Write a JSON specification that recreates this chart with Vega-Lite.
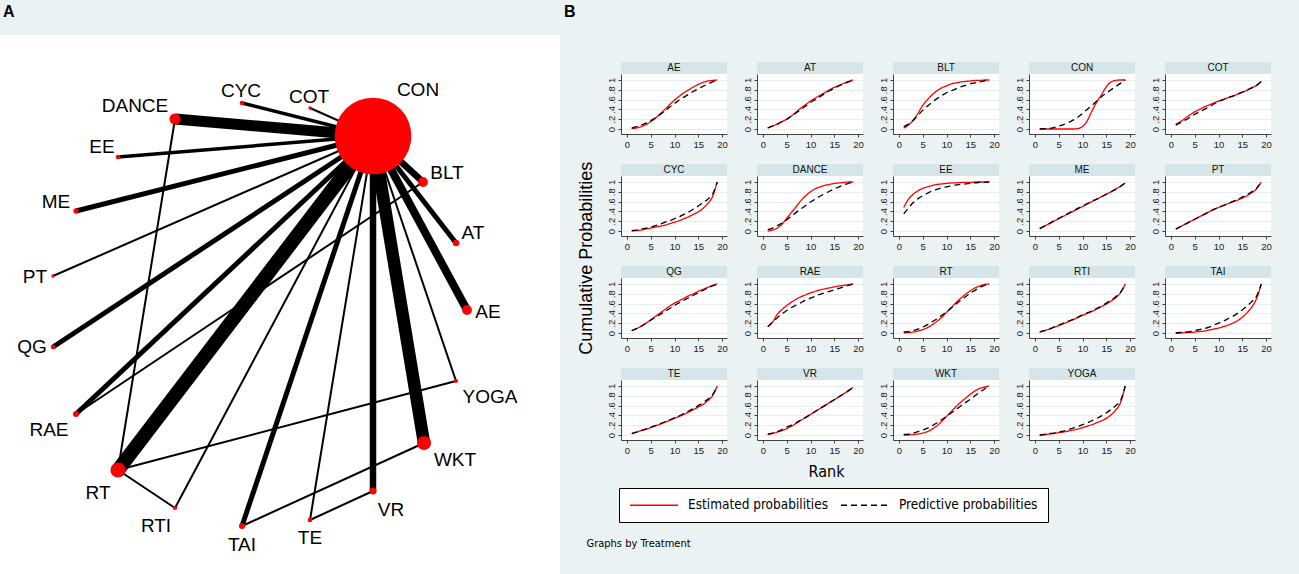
{
  "$schema": "https://vega.github.io/schema/vega-lite/v6.json",
  "background": "#EAF2F3",
  "padding": 0,
  "config": {"view": {"stroke": null, "fill": "white"}, "header": {"labels": false, "title": null, "labelFontSize": 0, "labelPadding": 0}, "headerFacet": {"labels": false, "title": null, "labelFontSize": 0, "labelPadding": 0}},
  "datasets": {
    "nodes": [
      {"id":"AE","x":467,"y":310,"n":48,"lx":488,"ly":312},
      {"id":"AT","x":456,"y":243,"n":21,"lx":473,"ly":233},
      {"id":"BLT","x":423,"y":182,"n":48,"lx":447,"ly":173},
      {"id":"CON","x":373,"y":136,"n":2945,"lx":418,"ly":90},
      {"id":"COT","x":310,"y":108,"n":6,"lx":309,"ly":97},
      {"id":"CYC","x":242,"y":103,"n":11,"lx":241,"ly":91},
      {"id":"DANCE","x":175,"y":119,"n":62,"lx":135,"ly":106},
      {"id":"EE","x":118,"y":157,"n":11,"lx":102,"ly":147},
      {"id":"ME","x":76,"y":211,"n":14,"lx":56,"ly":202},
      {"id":"PT","x":53,"y":276,"n":6,"lx":35,"ly":277},
      {"id":"QG","x":53,"y":347,"n":11,"lx":32,"ly":347},
      {"id":"RAE","x":76,"y":414,"n":18,"lx":49,"ly":430},
      {"id":"RT","x":118,"y":470,"n":114,"lx":98,"ly":493},
      {"id":"RTI","x":175,"y":508,"n":9,"lx":156,"ly":526},
      {"id":"TAI","x":242,"y":526,"n":18,"lx":242,"ly":545},
      {"id":"TE","x":310,"y":520,"n":11,"lx":310,"ly":538},
      {"id":"VR","x":373,"y":491,"n":25,"lx":391,"ly":510},
      {"id":"WKT","x":424,"y":443,"n":100,"lx":455,"ly":460},
      {"id":"YOGA","x":456,"y":381,"n":9,"lx":490,"ly":397}
    ],
    "edges": [
      {"a":"CON","b":"AE","studies":5},
      {"a":"CON","b":"AT","studies":3},
      {"a":"CON","b":"BLT","studies":4},
      {"a":"CON","b":"COT","studies":1},
      {"a":"CON","b":"CYC","studies":2},
      {"a":"CON","b":"DANCE","studies":7},
      {"a":"CON","b":"EE","studies":2},
      {"a":"CON","b":"ME","studies":3},
      {"a":"CON","b":"PT","studies":1},
      {"a":"CON","b":"QG","studies":3},
      {"a":"CON","b":"RAE","studies":3},
      {"a":"CON","b":"RT","studies":9},
      {"a":"CON","b":"RTI","studies":1},
      {"a":"CON","b":"TAI","studies":3},
      {"a":"CON","b":"TE","studies":1},
      {"a":"CON","b":"VR","studies":4},
      {"a":"CON","b":"WKT","studies":8},
      {"a":"CON","b":"YOGA","studies":1},
      {"a":"DANCE","b":"RT","studies":1},
      {"a":"RAE","b":"BLT","studies":1},
      {"a":"RT","b":"YOGA","studies":1},
      {"a":"RT","b":"RTI","studies":1},
      {"a":"TAI","b":"WKT","studies":1},
      {"a":"TE","b":"VR","studies":1}
    ],
    "curves": [
      {"t":"AE","r":1,"e":0.01,"p":0.02},{"t":"AE","r":2,"e":0.02,"p":0.05},{"t":"AE","r":3,"e":0.05,"p":0.08},{"t":"AE","r":4,"e":0.09,"p":0.12},{"t":"AE","r":5,"e":0.15,"p":0.17},{"t":"AE","r":6,"e":0.22,"p":0.23},{"t":"AE","r":7,"e":0.31,"p":0.30},{"t":"AE","r":8,"e":0.40,"p":0.37},{"t":"AE","r":9,"e":0.50,"p":0.45},{"t":"AE","r":10,"e":0.59,"p":0.52},{"t":"AE","r":11,"e":0.67,"p":0.59},{"t":"AE","r":12,"e":0.74,"p":0.65},{"t":"AE","r":13,"e":0.80,"p":0.71},{"t":"AE","r":14,"e":0.86,"p":0.77},{"t":"AE","r":15,"e":0.91,"p":0.82},{"t":"AE","r":16,"e":0.95,"p":0.87},{"t":"AE","r":17,"e":0.98,"p":0.92},{"t":"AE","r":18,"e":0.99,"p":0.96},{"t":"AE","r":19,"e":1,"p":1},
      {"t":"AT","r":1,"e":0.02,"p":0.02},{"t":"AT","r":2,"e":0.06,"p":0.06},{"t":"AT","r":3,"e":0.10,"p":0.10},{"t":"AT","r":4,"e":0.15,"p":0.15},{"t":"AT","r":5,"e":0.20,"p":0.20},{"t":"AT","r":6,"e":0.27,"p":0.26},{"t":"AT","r":7,"e":0.35,"p":0.33},{"t":"AT","r":8,"e":0.43,"p":0.40},{"t":"AT","r":9,"e":0.50,"p":0.47},{"t":"AT","r":10,"e":0.57,"p":0.54},{"t":"AT","r":11,"e":0.63,"p":0.60},{"t":"AT","r":12,"e":0.69,"p":0.66},{"t":"AT","r":13,"e":0.74,"p":0.72},{"t":"AT","r":14,"e":0.80,"p":0.78},{"t":"AT","r":15,"e":0.85,"p":0.83},{"t":"AT","r":16,"e":0.89,"p":0.88},{"t":"AT","r":17,"e":0.93,"p":0.92},{"t":"AT","r":18,"e":0.97,"p":0.96},{"t":"AT","r":19,"e":1,"p":0.99},
      {"t":"BLT","r":1,"e":0.02,"p":0.05},{"t":"BLT","r":2,"e":0.08,"p":0.10},{"t":"BLT","r":3,"e":0.18,"p":0.18},{"t":"BLT","r":4,"e":0.32,"p":0.28},{"t":"BLT","r":5,"e":0.48,"p":0.38},{"t":"BLT","r":6,"e":0.60,"p":0.47},{"t":"BLT","r":7,"e":0.70,"p":0.55},{"t":"BLT","r":8,"e":0.78,"p":0.62},{"t":"BLT","r":9,"e":0.84,"p":0.68},{"t":"BLT","r":10,"e":0.88,"p":0.74},{"t":"BLT","r":11,"e":0.92,"p":0.78},{"t":"BLT","r":12,"e":0.94,"p":0.82},{"t":"BLT","r":13,"e":0.96,"p":0.86},{"t":"BLT","r":14,"e":0.97,"p":0.89},{"t":"BLT","r":15,"e":0.98,"p":0.92},{"t":"BLT","r":16,"e":0.99,"p":0.94},{"t":"BLT","r":17,"e":0.99,"p":0.96},{"t":"BLT","r":18,"e":1,"p":0.98},{"t":"BLT","r":19,"e":1,"p":1},
      {"t":"CON","r":1,"e":0,"p":0},{"t":"CON","r":2,"e":0,"p":0.005},{"t":"CON","r":3,"e":0,"p":0.01},{"t":"CON","r":4,"e":0,"p":0.03},{"t":"CON","r":5,"e":0,"p":0.06},{"t":"CON","r":6,"e":0,"p":0.09},{"t":"CON","r":7,"e":0,"p":0.13},{"t":"CON","r":8,"e":0,"p":0.18},{"t":"CON","r":9,"e":0.01,"p":0.24},{"t":"CON","r":10,"e":0.05,"p":0.32},{"t":"CON","r":11,"e":0.17,"p":0.40},{"t":"CON","r":12,"e":0.37,"p":0.48},{"t":"CON","r":13,"e":0.55,"p":0.57},{"t":"CON","r":14,"e":0.70,"p":0.66},{"t":"CON","r":15,"e":0.86,"p":0.73},{"t":"CON","r":16,"e":0.96,"p":0.80},{"t":"CON","r":17,"e":0.99,"p":0.87},{"t":"CON","r":18,"e":1,"p":0.93},{"t":"CON","r":19,"e":1,"p":1},
      {"t":"COT","r":1,"e":0.10,"p":0.08},{"t":"COT","r":2,"e":0.15,"p":0.13},{"t":"COT","r":3,"e":0.22,"p":0.18},{"t":"COT","r":4,"e":0.29,"p":0.24},{"t":"COT","r":5,"e":0.35,"p":0.30},{"t":"COT","r":6,"e":0.40,"p":0.35},{"t":"COT","r":7,"e":0.45,"p":0.40},{"t":"COT","r":8,"e":0.49,"p":0.45},{"t":"COT","r":9,"e":0.53,"p":0.51},{"t":"COT","r":10,"e":0.57,"p":0.56},{"t":"COT","r":11,"e":0.60,"p":0.60},{"t":"COT","r":12,"e":0.64,"p":0.64},{"t":"COT","r":13,"e":0.67,"p":0.67},{"t":"COT","r":14,"e":0.71,"p":0.71},{"t":"COT","r":15,"e":0.75,"p":0.75},{"t":"COT","r":16,"e":0.79,"p":0.79},{"t":"COT","r":17,"e":0.84,"p":0.84},{"t":"COT","r":18,"e":0.89,"p":0.89},{"t":"COT","r":19,"e":0.97,"p":0.97},
      {"t":"CYC","r":1,"e":0,"p":0.01},{"t":"CYC","r":2,"e":0.01,"p":0.02},{"t":"CYC","r":3,"e":0.02,"p":0.04},{"t":"CYC","r":4,"e":0.04,"p":0.06},{"t":"CYC","r":5,"e":0.06,"p":0.08},{"t":"CYC","r":6,"e":0.08,"p":0.11},{"t":"CYC","r":7,"e":0.10,"p":0.14},{"t":"CYC","r":8,"e":0.12,"p":0.18},{"t":"CYC","r":9,"e":0.15,"p":0.21},{"t":"CYC","r":10,"e":0.18,"p":0.25},{"t":"CYC","r":11,"e":0.21,"p":0.29},{"t":"CYC","r":12,"e":0.25,"p":0.34},{"t":"CYC","r":13,"e":0.29,"p":0.39},{"t":"CYC","r":14,"e":0.34,"p":0.45},{"t":"CYC","r":15,"e":0.39,"p":0.51},{"t":"CYC","r":16,"e":0.46,"p":0.58},{"t":"CYC","r":17,"e":0.56,"p":0.65},{"t":"CYC","r":18,"e":0.70,"p":0.75},{"t":"CYC","r":19,"e":1,"p":1},
      {"t":"DANCE","r":1,"e":0,"p":0.03},{"t":"DANCE","r":2,"e":0.02,"p":0.06},{"t":"DANCE","r":3,"e":0.06,"p":0.11},{"t":"DANCE","r":4,"e":0.14,"p":0.16},{"t":"DANCE","r":5,"e":0.26,"p":0.23},{"t":"DANCE","r":6,"e":0.38,"p":0.30},{"t":"DANCE","r":7,"e":0.50,"p":0.38},{"t":"DANCE","r":8,"e":0.62,"p":0.45},{"t":"DANCE","r":9,"e":0.72,"p":0.52},{"t":"DANCE","r":10,"e":0.80,"p":0.59},{"t":"DANCE","r":11,"e":0.86,"p":0.65},{"t":"DANCE","r":12,"e":0.90,"p":0.71},{"t":"DANCE","r":13,"e":0.93,"p":0.76},{"t":"DANCE","r":14,"e":0.95,"p":0.81},{"t":"DANCE","r":15,"e":0.97,"p":0.86},{"t":"DANCE","r":16,"e":0.98,"p":0.90},{"t":"DANCE","r":17,"e":0.99,"p":0.94},{"t":"DANCE","r":18,"e":1,"p":0.97},{"t":"DANCE","r":19,"e":1,"p":1},
      {"t":"EE","r":1,"e":0.48,"p":0.35},{"t":"EE","r":2,"e":0.65,"p":0.47},{"t":"EE","r":3,"e":0.75,"p":0.58},{"t":"EE","r":4,"e":0.82,"p":0.66},{"t":"EE","r":5,"e":0.87,"p":0.72},{"t":"EE","r":6,"e":0.90,"p":0.77},{"t":"EE","r":7,"e":0.93,"p":0.82},{"t":"EE","r":8,"e":0.95,"p":0.85},{"t":"EE","r":9,"e":0.96,"p":0.88},{"t":"EE","r":10,"e":0.97,"p":0.90},{"t":"EE","r":11,"e":0.98,"p":0.92},{"t":"EE","r":12,"e":0.98,"p":0.94},{"t":"EE","r":13,"e":0.99,"p":0.95},{"t":"EE","r":14,"e":0.99,"p":0.96},{"t":"EE","r":15,"e":0.99,"p":0.97},{"t":"EE","r":16,"e":1,"p":0.98},{"t":"EE","r":17,"e":1,"p":0.99},{"t":"EE","r":18,"e":1,"p":0.99},{"t":"EE","r":19,"e":1,"p":1},
      {"t":"ME","r":1,"e":0.05,"p":0.05},{"t":"ME","r":2,"e":0.10,"p":0.10},{"t":"ME","r":3,"e":0.15,"p":0.15},{"t":"ME","r":4,"e":0.20,"p":0.21},{"t":"ME","r":5,"e":0.25,"p":0.26},{"t":"ME","r":6,"e":0.30,"p":0.31},{"t":"ME","r":7,"e":0.35,"p":0.36},{"t":"ME","r":8,"e":0.40,"p":0.41},{"t":"ME","r":9,"e":0.45,"p":0.46},{"t":"ME","r":10,"e":0.50,"p":0.51},{"t":"ME","r":11,"e":0.55,"p":0.56},{"t":"ME","r":12,"e":0.60,"p":0.61},{"t":"ME","r":13,"e":0.65,"p":0.65},{"t":"ME","r":14,"e":0.70,"p":0.70},{"t":"ME","r":15,"e":0.75,"p":0.75},{"t":"ME","r":16,"e":0.80,"p":0.80},{"t":"ME","r":17,"e":0.86,"p":0.85},{"t":"ME","r":18,"e":0.91,"p":0.91},{"t":"ME","r":19,"e":0.98,"p":0.98},
      {"t":"PT","r":1,"e":0.04,"p":0.04},{"t":"PT","r":2,"e":0.09,"p":0.09},{"t":"PT","r":3,"e":0.14,"p":0.14},{"t":"PT","r":4,"e":0.19,"p":0.19},{"t":"PT","r":5,"e":0.24,"p":0.24},{"t":"PT","r":6,"e":0.29,"p":0.29},{"t":"PT","r":7,"e":0.34,"p":0.34},{"t":"PT","r":8,"e":0.39,"p":0.39},{"t":"PT","r":9,"e":0.44,"p":0.44},{"t":"PT","r":10,"e":0.48,"p":0.48},{"t":"PT","r":11,"e":0.52,"p":0.52},{"t":"PT","r":12,"e":0.56,"p":0.56},{"t":"PT","r":13,"e":0.60,"p":0.60},{"t":"PT","r":14,"e":0.63,"p":0.64},{"t":"PT","r":15,"e":0.67,"p":0.69},{"t":"PT","r":16,"e":0.72,"p":0.74},{"t":"PT","r":17,"e":0.78,"p":0.80},{"t":"PT","r":18,"e":0.86,"p":0.87},{"t":"PT","r":19,"e":1,"p":1},
      {"t":"QG","r":1,"e":0.05,"p":0.05},{"t":"QG","r":2,"e":0.09,"p":0.09},{"t":"QG","r":3,"e":0.14,"p":0.14},{"t":"QG","r":4,"e":0.20,"p":0.20},{"t":"QG","r":5,"e":0.27,"p":0.26},{"t":"QG","r":6,"e":0.34,"p":0.32},{"t":"QG","r":7,"e":0.41,"p":0.38},{"t":"QG","r":8,"e":0.48,"p":0.44},{"t":"QG","r":9,"e":0.55,"p":0.50},{"t":"QG","r":10,"e":0.61,"p":0.56},{"t":"QG","r":11,"e":0.66,"p":0.62},{"t":"QG","r":12,"e":0.71,"p":0.67},{"t":"QG","r":13,"e":0.76,"p":0.72},{"t":"QG","r":14,"e":0.80,"p":0.77},{"t":"QG","r":15,"e":0.85,"p":0.82},{"t":"QG","r":16,"e":0.89,"p":0.87},{"t":"QG","r":17,"e":0.93,"p":0.92},{"t":"QG","r":18,"e":0.97,"p":0.96},{"t":"QG","r":19,"e":1,"p":1},
      {"t":"RAE","r":1,"e":0.13,"p":0.13},{"t":"RAE","r":2,"e":0.22,"p":0.22},{"t":"RAE","r":3,"e":0.38,"p":0.31},{"t":"RAE","r":4,"e":0.48,"p":0.39},{"t":"RAE","r":5,"e":0.56,"p":0.46},{"t":"RAE","r":6,"e":0.63,"p":0.52},{"t":"RAE","r":7,"e":0.69,"p":0.57},{"t":"RAE","r":8,"e":0.74,"p":0.62},{"t":"RAE","r":9,"e":0.78,"p":0.67},{"t":"RAE","r":10,"e":0.82,"p":0.71},{"t":"RAE","r":11,"e":0.85,"p":0.75},{"t":"RAE","r":12,"e":0.88,"p":0.79},{"t":"RAE","r":13,"e":0.90,"p":0.82},{"t":"RAE","r":14,"e":0.92,"p":0.85},{"t":"RAE","r":15,"e":0.94,"p":0.88},{"t":"RAE","r":16,"e":0.96,"p":0.91},{"t":"RAE","r":17,"e":0.97,"p":0.94},{"t":"RAE","r":18,"e":0.99,"p":0.97},{"t":"RAE","r":19,"e":1,"p":1},
      {"t":"RT","r":1,"e":0,"p":0.02},{"t":"RT","r":2,"e":0.01,"p":0.03},{"t":"RT","r":3,"e":0.02,"p":0.05},{"t":"RT","r":4,"e":0.04,"p":0.08},{"t":"RT","r":5,"e":0.07,"p":0.12},{"t":"RT","r":6,"e":0.11,"p":0.17},{"t":"RT","r":7,"e":0.17,"p":0.23},{"t":"RT","r":8,"e":0.24,"p":0.29},{"t":"RT","r":9,"e":0.32,"p":0.36},{"t":"RT","r":10,"e":0.42,"p":0.43},{"t":"RT","r":11,"e":0.52,"p":0.51},{"t":"RT","r":12,"e":0.62,"p":0.59},{"t":"RT","r":13,"e":0.71,"p":0.67},{"t":"RT","r":14,"e":0.79,"p":0.74},{"t":"RT","r":15,"e":0.86,"p":0.81},{"t":"RT","r":16,"e":0.92,"p":0.87},{"t":"RT","r":17,"e":0.96,"p":0.93},{"t":"RT","r":18,"e":0.99,"p":0.97},{"t":"RT","r":19,"e":1,"p":1},
      {"t":"RTI","r":1,"e":0.02,"p":0.02},{"t":"RTI","r":2,"e":0.05,"p":0.05},{"t":"RTI","r":3,"e":0.08,"p":0.08},{"t":"RTI","r":4,"e":0.12,"p":0.12},{"t":"RTI","r":5,"e":0.15,"p":0.16},{"t":"RTI","r":6,"e":0.19,"p":0.20},{"t":"RTI","r":7,"e":0.23,"p":0.24},{"t":"RTI","r":8,"e":0.27,"p":0.28},{"t":"RTI","r":9,"e":0.32,"p":0.32},{"t":"RTI","r":10,"e":0.36,"p":0.37},{"t":"RTI","r":11,"e":0.40,"p":0.41},{"t":"RTI","r":12,"e":0.44,"p":0.45},{"t":"RTI","r":13,"e":0.49,"p":0.50},{"t":"RTI","r":14,"e":0.54,"p":0.55},{"t":"RTI","r":15,"e":0.59,"p":0.61},{"t":"RTI","r":16,"e":0.65,"p":0.67},{"t":"RTI","r":17,"e":0.72,"p":0.74},{"t":"RTI","r":18,"e":0.82,"p":0.83},{"t":"RTI","r":19,"e":1,"p":1},
      {"t":"TAI","r":1,"e":0,"p":0},{"t":"TAI","r":2,"e":0,"p":0.01},{"t":"TAI","r":3,"e":0.01,"p":0.02},{"t":"TAI","r":4,"e":0.01,"p":0.03},{"t":"TAI","r":5,"e":0.02,"p":0.05},{"t":"TAI","r":6,"e":0.03,"p":0.07},{"t":"TAI","r":7,"e":0.04,"p":0.09},{"t":"TAI","r":8,"e":0.06,"p":0.12},{"t":"TAI","r":9,"e":0.08,"p":0.16},{"t":"TAI","r":10,"e":0.10,"p":0.20},{"t":"TAI","r":11,"e":0.13,"p":0.24},{"t":"TAI","r":12,"e":0.16,"p":0.29},{"t":"TAI","r":13,"e":0.20,"p":0.34},{"t":"TAI","r":14,"e":0.25,"p":0.40},{"t":"TAI","r":15,"e":0.32,"p":0.47},{"t":"TAI","r":16,"e":0.41,"p":0.55},{"t":"TAI","r":17,"e":0.53,"p":0.64},{"t":"TAI","r":18,"e":0.70,"p":0.75},{"t":"TAI","r":19,"e":1,"p":1},
      {"t":"TE","r":1,"e":0.03,"p":0.03},{"t":"TE","r":2,"e":0.06,"p":0.06},{"t":"TE","r":3,"e":0.09,"p":0.09},{"t":"TE","r":4,"e":0.12,"p":0.12},{"t":"TE","r":5,"e":0.15,"p":0.16},{"t":"TE","r":6,"e":0.19,"p":0.19},{"t":"TE","r":7,"e":0.22,"p":0.23},{"t":"TE","r":8,"e":0.26,"p":0.27},{"t":"TE","r":9,"e":0.30,"p":0.31},{"t":"TE","r":10,"e":0.34,"p":0.35},{"t":"TE","r":11,"e":0.38,"p":0.39},{"t":"TE","r":12,"e":0.42,"p":0.44},{"t":"TE","r":13,"e":0.47,"p":0.49},{"t":"TE","r":14,"e":0.52,"p":0.54},{"t":"TE","r":15,"e":0.57,"p":0.60},{"t":"TE","r":16,"e":0.62,"p":0.66},{"t":"TE","r":17,"e":0.70,"p":0.73},{"t":"TE","r":18,"e":0.80,"p":0.82},{"t":"TE","r":19,"e":1,"p":1},
      {"t":"VR","r":1,"e":0.01,"p":0.02},{"t":"VR","r":2,"e":0.03,"p":0.04},{"t":"VR","r":3,"e":0.06,"p":0.07},{"t":"VR","r":4,"e":0.09,"p":0.11},{"t":"VR","r":5,"e":0.13,"p":0.16},{"t":"VR","r":6,"e":0.18,"p":0.20},{"t":"VR","r":7,"e":0.24,"p":0.25},{"t":"VR","r":8,"e":0.30,"p":0.31},{"t":"VR","r":9,"e":0.36,"p":0.36},{"t":"VR","r":10,"e":0.42,"p":0.42},{"t":"VR","r":11,"e":0.48,"p":0.48},{"t":"VR","r":12,"e":0.54,"p":0.54},{"t":"VR","r":13,"e":0.60,"p":0.60},{"t":"VR","r":14,"e":0.66,"p":0.66},{"t":"VR","r":15,"e":0.72,"p":0.72},{"t":"VR","r":16,"e":0.78,"p":0.78},{"t":"VR","r":17,"e":0.84,"p":0.84},{"t":"VR","r":18,"e":0.91,"p":0.90},{"t":"VR","r":19,"e":0.97,"p":0.97},
      {"t":"WKT","r":1,"e":0,"p":0.01},{"t":"WKT","r":2,"e":0,"p":0.02},{"t":"WKT","r":3,"e":0.01,"p":0.04},{"t":"WKT","r":4,"e":0.02,"p":0.07},{"t":"WKT","r":5,"e":0.04,"p":0.10},{"t":"WKT","r":6,"e":0.07,"p":0.14},{"t":"WKT","r":7,"e":0.12,"p":0.19},{"t":"WKT","r":8,"e":0.19,"p":0.25},{"t":"WKT","r":9,"e":0.28,"p":0.31},{"t":"WKT","r":10,"e":0.38,"p":0.38},{"t":"WKT","r":11,"e":0.48,"p":0.45},{"t":"WKT","r":12,"e":0.58,"p":0.52},{"t":"WKT","r":13,"e":0.67,"p":0.59},{"t":"WKT","r":14,"e":0.75,"p":0.66},{"t":"WKT","r":15,"e":0.83,"p":0.73},{"t":"WKT","r":16,"e":0.90,"p":0.80},{"t":"WKT","r":17,"e":0.95,"p":0.87},{"t":"WKT","r":18,"e":0.98,"p":0.94},{"t":"WKT","r":19,"e":1,"p":1},
      {"t":"YOGA","r":1,"e":0,"p":0},{"t":"YOGA","r":2,"e":0.01,"p":0.01},{"t":"YOGA","r":3,"e":0.02,"p":0.03},{"t":"YOGA","r":4,"e":0.03,"p":0.04},{"t":"YOGA","r":5,"e":0.05,"p":0.06},{"t":"YOGA","r":6,"e":0.06,"p":0.08},{"t":"YOGA","r":7,"e":0.08,"p":0.11},{"t":"YOGA","r":8,"e":0.10,"p":0.14},{"t":"YOGA","r":9,"e":0.12,"p":0.17},{"t":"YOGA","r":10,"e":0.15,"p":0.21},{"t":"YOGA","r":11,"e":0.18,"p":0.25},{"t":"YOGA","r":12,"e":0.21,"p":0.29},{"t":"YOGA","r":13,"e":0.25,"p":0.34},{"t":"YOGA","r":14,"e":0.29,"p":0.39},{"t":"YOGA","r":15,"e":0.34,"p":0.45},{"t":"YOGA","r":16,"e":0.41,"p":0.52},{"t":"YOGA","r":17,"e":0.51,"p":0.60},{"t":"YOGA","r":18,"e":0.66,"p":0.70},{"t":"YOGA","r":19,"e":1,"p":1}
    ]
  },
  "spacing": 0,
  "vconcat": [
    {
      "spacing": 0,
      "hconcat": [
        {
          "width": 560, "height": 35,
          "data": {"values": [{}]},
          "mark": {"type": "text"},
          "encoding": {"text": {"value": ""}},
          "title": {"text": "A", "anchor": "start", "offset": -20, "dx": 3, "fontSize": 16, "fontWeight": "bold", "font": "Liberation Sans", "color": "black"}
        },
        {
          "width": 739, "height": 35,
          "data": {"values": [{}]},
          "mark": {"type": "text"},
          "encoding": {"text": {"value": ""}},
          "title": {"text": "B", "anchor": "start", "offset": -20, "dx": 4, "fontSize": 16, "fontWeight": "bold", "font": "Liberation Sans", "color": "black"}
        }
      ]
    },
    {
      "spacing": 17,
      "hconcat": [
        {
          "width": 560, "height": 539,
          "layer": [
            {
              "data": {"name": "edges"},
              "transform": [
                {"lookup": "a", "from": {"data": {"name": "nodes"}, "key": "id", "fields": ["x", "y"]}},
                {"lookup": "b", "from": {"data": {"name": "nodes"}, "key": "id", "fields": ["x", "y"]}, "as": ["x2", "y2"]}
              ],
              "mark": {"type": "rule", "color": "black", "strokeCap": "butt"},
              "encoding": {
                "x": {"field": "x", "type": "quantitative", "scale": {"domain": [0, 560], "nice": false, "zero": false}, "axis": null},
                "y": {"field": "y", "type": "quantitative", "scale": {"domain": [35, 574], "reverse": true, "nice": false, "zero": false}, "axis": null},
                "x2": {"field": "x2"},
                "y2": {"field": "y2"},
                "strokeWidth": {"field": "studies", "type": "quantitative", "scale": {"domain": [1, 9], "range": [2, 14]}, "legend": null}
              }
            },
            {
              "data": {"name": "nodes"},
              "mark": {"type": "circle", "color": "#FF0000", "opacity": 1},
              "encoding": {
                "x": {"field": "x", "type": "quantitative"},
                "y": {"field": "y", "type": "quantitative"},
                "size": {"field": "n", "type": "quantitative", "scale": {"domain": [0, 3000], "range": [0, 6000]}, "legend": null}
              }
            },
            {
              "data": {"name": "nodes"},
              "mark": {"type": "text", "font": "Liberation Sans", "fontSize": 19, "color": "black", "align": "center", "baseline": "middle"},
              "encoding": {
                "x": {"field": "lx", "type": "quantitative"},
                "y": {"field": "ly", "type": "quantitative"},
                "text": {"field": "id"}
              }
            }
          ]
        },
        {
          "spacing": 8,
          "resolve": {"legend": {"color": "independent", "strokeDash": "independent"}},
          "vconcat": [
            {
              "width": 10, "height": 18,
              "view": {"fill": "#EAF2F3", "stroke": null},
              "data": {"values": [{}]},
              "mark": {"type": "text"},
              "encoding": {"text": {"value": ""}}
            },
            {
              "data": {"name": "curves"},
              "transform": [{"fold": ["e", "p"], "as": ["series", "value"]}],
              "facet": {"field": "t", "type": "nominal", "header": {"labels": false, "title": null, "labelFontSize": 0, "labelPadding": 0, "labelExpr": "''"}},
              "columns": 5,
              "spacing": {"row": 14, "column": 13},
              "title": {"text": "Cumulative Probabilities", "orient": "left", "anchor": "middle", "fontSize": 18, "font": "Liberation Sans", "fontWeight": "normal", "color": "black", "offset": 10},
              "resolve": {"axis": {"x": "independent", "y": "independent"}},
              "spec": {
                "width": 106, "height": 60,
                "layer": [
                  {
                    "transform": [{"filter": {"and": [{"field": "r", "equal": 1}, {"field": "series", "equal": "e"}]}}],
                    "mark": {"type": "rect", "fill": "#D6E6E8", "clip": false},
                    "encoding": {
                      "x": {"datum": -1.263, "title": null,
                        "scale": {"domain": [-1.263, 21.05], "nice": false, "zero": false},
                        "axis": {"values": [0, 5, 10, 15, 20], "title": null, "grid": false, "domainColor": "#444", "tickColor": "#444", "tickSize": 3, "labelFontSize": 9.5, "labelPadding": 2, "labelColor": "#222", "labelFont": "Liberation Sans", "labelFlush": false, "labelOverlap": false}},
                      "x2": {"datum": 21.05},
                      "y": {"datum": 1.1224, "title": null,
                        "scale": {"domain": [-0.102, 1.122], "nice": false, "zero": false},
                        "axis": {"values": [0, 0.2, 0.4, 0.6, 0.8, 1], "title": null, "grid": true, "gridColor": "#E6EEF0", "domainColor": "#444", "tickColor": "#444", "tickSize": 3, "labelFontSize": 9.5, "labelPadding": 2, "labelColor": "#222", "labelFont": "Liberation Sans", "labelAngle": -90, "labelAlign": "center", "labelBaseline": "bottom", "labelOverlap": false, "labelFlush": false,
                          "labelExpr": "datum.value == 0 ? '0' : datum.value == 1 ? '1' : replace(format(datum.value, '.1f'), '0.', '.')"}},
                      "y2": {"datum": 1.367}
                    }
                  },
                  {
                    "transform": [{"filter": {"and": [{"field": "r", "equal": 1}, {"field": "series", "equal": "e"}]}}],
                    "mark": {"type": "text", "font": "Liberation Sans", "fontSize": 10, "color": "#111", "align": "center", "baseline": "middle", "clip": false},
                    "encoding": {
                      "x": {"datum": 9.9, "title": null,
                        "axis": {"values": [0, 5, 10, 15, 20], "title": null, "grid": false, "domainColor": "#444", "tickColor": "#444", "tickSize": 3, "labelFontSize": 9.5, "labelPadding": 2, "labelColor": "#222", "labelFont": "Liberation Sans", "labelFlush": false, "labelOverlap": false}},
                      "y": {"datum": 1.245, "title": null,
                        "axis": {"values": [0, 0.2, 0.4, 0.6, 0.8, 1], "title": null, "grid": true, "gridColor": "#E6EEF0", "domainColor": "#444", "tickColor": "#444", "tickSize": 3, "labelFontSize": 9.5, "labelPadding": 2, "labelColor": "#222", "labelFont": "Liberation Sans", "labelAngle": -90, "labelAlign": "center", "labelBaseline": "bottom", "labelOverlap": false, "labelFlush": false,
                          "labelExpr": "datum.value == 0 ? '0' : datum.value == 1 ? '1' : replace(format(datum.value, '.1f'), '0.', '.')"}},
                      "text": {"field": "t"}
                    }
                  },
                  {
                    "mark": {"type": "line", "strokeWidth": 1.3, "interpolate": "monotone"},
                    "encoding": {
                      "x": {"field": "r", "type": "quantitative", "title": null,
                        "axis": {"values": [0, 5, 10, 15, 20], "title": null, "grid": false, "domainColor": "#444", "tickColor": "#444", "tickSize": 3, "labelFontSize": 9.5, "labelPadding": 2, "labelColor": "#222", "labelFont": "Liberation Sans", "labelFlush": false, "labelOverlap": false}},
                      "y": {"field": "value", "type": "quantitative", "title": null,
                        "axis": {"values": [0, 0.2, 0.4, 0.6, 0.8, 1], "title": null, "grid": true, "gridColor": "#E6EEF0", "domainColor": "#444", "tickColor": "#444", "tickSize": 3, "labelFontSize": 9.5, "labelPadding": 2, "labelColor": "#222", "labelFont": "Liberation Sans", "labelAngle": -90, "labelAlign": "center", "labelBaseline": "bottom", "labelOverlap": false, "labelFlush": false,
                          "labelExpr": "datum.value == 0 ? '0' : datum.value == 1 ? '1' : replace(format(datum.value, '.1f'), '0.', '.')"}},
                      "color": {"field": "series", "type": "nominal", "scale": {"domain": ["e", "p"], "range": ["#FF0000", "black"]}, "legend": null},
                      "strokeDash": {"field": "series", "type": "nominal", "scale": {"domain": ["e", "p"], "range": [[1, 0], [6, 4]]}, "legend": null}
                    }
                  }
                ]
              }
            },
            {
              "width": 410, "height": 1,
              "view": {"fill": "#EAF2F3", "stroke": null},
              "data": {"name": "curves"},
              "transform": [
                {"filter": {"and": [{"field": "t", "equal": "AE"}, {"field": "r", "equal": 1}]}},
                {"fold": ["e", "p"], "as": ["series", "value"]}
              ],
              "mark": {"type": "line", "strokeWidth": 1.5},
              "title": {"text": "Graphs by Treatment", "orient": "bottom", "anchor": "start", "fontSize": 11, "font": "Liberation Sans Narrow, DejaVu Sans Condensed, sans-serif", "fontWeight": "normal", "color": "black", "offset": 15, "dx": -32},
              "encoding": {
                "x": {"field": "r", "type": "quantitative",
                  "axis": {"orient": "top", "title": "Rank", "domain": false, "ticks": false, "labels": false, "grid": false, "titleFont": "Liberation Sans Narrow, DejaVu Sans Condensed, sans-serif", "titleFontSize": 16, "titleFontWeight": "normal", "titleColor": "black", "titlePadding": 2}},
                "y": {"field": "value", "type": "quantitative", "axis": null},
                "color": {"field": "series", "type": "nominal", "scale": {"domain": ["e", "p"], "range": ["#FF0000", "black"]},
                  "legend": {"orient": "none", "legendX": -2, "legendY": 7, "direction": "horizontal", "title": null, "fillColor": "white", "strokeColor": "black", "padding": 10, "symbolType": "M-1,0H7", "symbolSize": 144, "symbolStrokeWidth": 1.5, "labelFont": "Liberation Sans Narrow, DejaVu Sans Condensed, sans-serif", "labelFontSize": 13.5, "labelColor": "black", "labelOffset": 45, "columnSpacing": 20, "labelLimit": 400,
                    "labelExpr": "datum.label == 'e' ? 'Estimated probabilities' : 'Predictive probabilities'"}},
                "strokeDash": {"field": "series", "type": "nominal", "scale": {"domain": ["e", "p"], "range": [[1, 0], [6, 4]]},
                  "legend": {"orient": "none", "legendX": -2, "legendY": 7, "direction": "horizontal", "title": null, "fillColor": "white", "strokeColor": "black", "padding": 10, "symbolType": "M-1,0H7", "symbolSize": 144, "symbolStrokeWidth": 1.5, "labelFont": "Liberation Sans Narrow, DejaVu Sans Condensed, sans-serif", "labelFontSize": 13.5, "labelColor": "black", "labelOffset": 45, "columnSpacing": 20, "labelLimit": 400,
                    "labelExpr": "datum.label == 'e' ? 'Estimated probabilities' : 'Predictive probabilities'"}}
              }
            }
          ]
        }
      ]
    }
  ]
}
